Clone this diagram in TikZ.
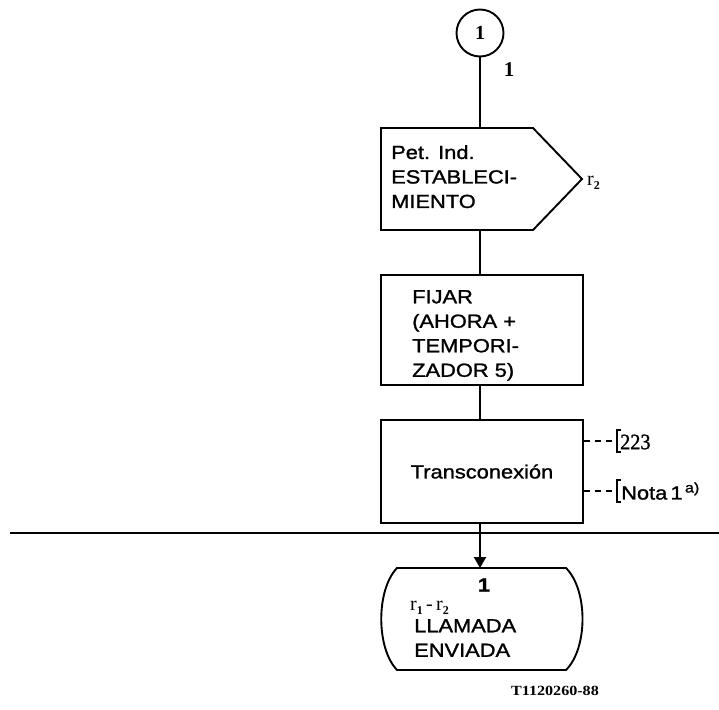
\documentclass[tikz,border=0pt]{standalone}
\usepackage{fontspec}
\setmainfont{Liberation Sans}[FakeStretch=1.15, FakeBold=1.3]
\newfontfamily\serifont{Liberation Serif}
\newfontfamily\codefont{Liberation Serif}[FakeStretch=1.15]
\newfontfamily\numfont{Liberation Serif}[FakeStretch=0.92, FakeBold=1.2]
\usetikzlibrary{arrows.meta}
\tikzset{
  outline/.style={line width=1.9pt, line join=miter},
  conn/.style={line width=1.9pt},
  ghost/.style={draw=none, inner sep=0pt, outer sep=0pt},
  boxtext/.style={inner sep=0pt, align=left, anchor=north west, font=\fontsize{19}{24.5}\selectfont},
  brkt/.style={line width=1.3pt},
  dsh/.style={line width=1.3pt, dash pattern=on 6pt off 5pt},
}
\begin{document}
\begin{tikzpicture}[x=1pt,y=-1pt]
\useasboundingbox (0,0) rectangle (719,709);
% connector circle
\node[circle, draw, outline, minimum size=47pt, inner sep=0pt, font=\serifont\bfseries\fontsize{20}{20}\selectfont] (c1) at (480,33) {1};
\node[inner sep=0pt, font=\serifont\bfseries\fontsize{21}{21}\selectfont] (c1lab) at (509,70) {1};
% output signal
\node[ghost, minimum width=201pt, minimum height=102pt] (sig) at (481.5,179) {};
\draw[outline] (sig.north west) -- ([xshift=152pt]sig.north west) -- (sig.east) -- ([xshift=152pt]sig.south west) -- (sig.south west) -- cycle;
\node[boxtext] (sigtxt) at (391,145) {Pet. Ind.\\ESTABLECI-\\MIENTO};
\node[inner sep=0pt, anchor=west, font=\serifont\fontsize{20}{20}\selectfont] (r2) at (587,183) {r\raisebox{-4pt}{\fontsize{12}{12}\selectfont\bfseries 2}};
% task FIJAR
\node[draw, outline, minimum width=202pt, minimum height=110pt] (fij) at (482,330) {};
\node[boxtext] (fijtxt) at (412,290) {FIJAR\\(AHORA +\\TEMPORI-\\ZADOR 5)};
% task Transconexion
\node[draw, outline, minimum width=202pt, minimum height=103pt, font=\fontsize{19}{24}\selectfont] (tra) at (482,471.5) {Transconexión};
% comments
\coordinate (b1) at (617,441);
\coordinate (b2) at (617,491);
\draw[dsh] (tra.east |- b1) -- (b1);
\draw[dsh] (tra.east |- b2) -- (b2);
\draw[brkt] ([xshift=4pt,yshift=11pt]b1) -- ([yshift=11pt]b1) -- ([yshift=-11pt]b1) -- ([xshift=4pt,yshift=-11pt]b1);
\draw[brkt] ([xshift=4pt,yshift=11pt]b2) -- ([yshift=11pt]b2) -- ([yshift=-11pt]b2) -- ([xshift=4pt,yshift=-11pt]b2);
\node[inner sep=0pt, anchor=west, font=\numfont\fontsize{22}{22}\selectfont] (t223) at (620,442) {223};
\node[inner sep=0pt, anchor=west, font=\fontsize{19}{19}\selectfont] (tnota) at (621,491) {Nota\,1\raisebox{7pt}{\fontsize{14}{14}\selectfont\,a)}};
% separator line
\draw[line width=1.3pt] (10,533) -- (719,533);
% terminal state
\node[ghost, minimum width=202pt, minimum height=102pt] (term) at (482,619) {};
\draw[outline] (397,568) -- (566,568) .. controls (588,590) and (588,648) .. (566,670) -- (397,670) .. controls (376,648) and (376,590) .. (397,568) -- cycle;
\node[inner sep=0pt, font=\bfseries\fontsize{19}{19}\selectfont] (tnum) at (484,585) {1};
\node[inner sep=0pt, anchor=west, font=\serifont\fontsize{20}{20}\selectfont] (rr) at (410,608) {r\raisebox{-4pt}{\fontsize{12}{12}\selectfont\bfseries 1}\,-\,r\raisebox{-4pt}{\fontsize{12}{12}\selectfont\bfseries 2}};
\node[boxtext] (termtxt) at (414,619) {LLAMADA\\ENVIADA};
% connectors
\draw[conn] (c1.south) -- (c1.south |- sig.north);
\draw[conn] (sig.south -| c1) -- (fij.north -| c1);
\draw[conn] (fij.south -| c1) -- (tra.north -| c1);
\draw[conn, -{Triangle[length=11pt, width=12pt]}] (tra.south -| c1) -- (term.north -| c1);
% figure code
\node[inner sep=0pt, font=\codefont\bfseries\fontsize{14}{14}\selectfont] (code) at (555,691) {T1120260-88};
\end{tikzpicture}
\end{document}
